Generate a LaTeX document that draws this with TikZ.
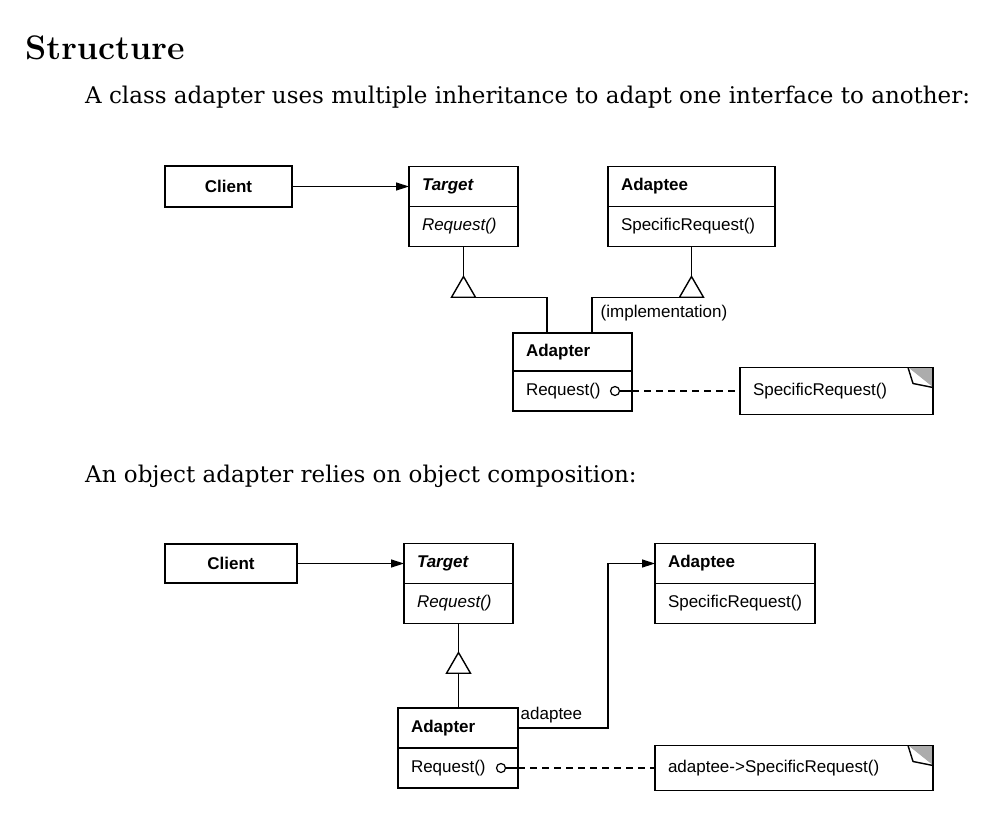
\documentclass[tikz,border=0pt]{standalone}
\usepackage{fontspec}
\setsansfont{Liberation Sans}
\newfontfamily\bodyfont{DejaVu Serif}
\usetikzlibrary{shapes.geometric, arrows.meta, positioning, calc}
\newcommand{\umlfont}{\fontsize{17}{20}\selectfont\sffamily}
\tikzstyle{heading} = [anchor=base west, inner sep=0pt, font=\fontsize{34}{40}\selectfont\bfseries]
\tikzstyle{bodytext} = [anchor=base west, inner sep=0pt, font=\bodyfont\fontsize{23}{28}\selectfont]
\tikzstyle{classname} = [rectangle, draw=black, line width=1.4pt, outer sep=0pt, minimum height=40pt, inner xsep=13pt, inner ysep=0pt, align=left, font=\umlfont\bfseries]
\tikzstyle{classops} = [rectangle, draw=black, line width=1.4pt, outer sep=0pt, minimum height=40pt, inner xsep=13pt, inner ysep=0pt, align=left, font=\umlfont]
\tikzstyle{notebox} = [rectangle, draw=black, line width=1.4pt, outer sep=0pt, fill=white, inner xsep=13pt, inner ysep=0pt, align=left, font=\umlfont]
\tikzstyle{gentri} = [regular polygon, regular polygon sides=3, draw=black, line width=1.4pt, outer sep=0pt, fill=white, minimum size=27.7pt, inner sep=0pt]
\tikzstyle{implpoint} = [circle, draw=black, line width=1.2pt, minimum size=9pt, inner sep=0pt]
\tikzstyle{label} = [inner sep=2pt, font=\umlfont]
\tikzstyle{link} = [line width=1.4pt]
\tikzstyle{dashlink} = [line width=1.4pt, dash pattern=on 7pt off 5pt]
\tikzstyle{arrow} = [line width=1.4pt, -{Triangle[length=13pt, width=8pt]}]

\begin{document}
\begin{tikzpicture}[x=1pt, y=-1pt]
\useasboundingbox (0,0) rectangle (994,816);

\node (title) [heading] at (25,60) {Structure};
\node (classintro) [bodytext] at (85,103) {A class adapter uses multiple inheritance to adapt one interface to another:};
\node (objintro) [bodytext] at (85,482) {An object adapter relies on object composition:};

% class adapter
\node (client) [classname, anchor=north west, minimum width=127pt, minimum height=41pt] at (165,166) {Client};
\node (target) [classname, text width=83pt, right=117pt of client] {\itshape Target};
\node (targetops) [classops, text width=83pt, below=0pt of target] {\itshape Request()};
\node (adaptee) [classname, text width=141pt, right=90pt of target] {Adaptee};
\node (adapteeops) [classops, text width=141pt, below=0pt of adaptee] {SpecificRequest()};
\node (adapter) [classname, text width=93pt, anchor=north west, minimum height=38pt] at (513,333) {Adapter};
\node (adapterops) [classops, text width=93pt, below=0pt of adapter] {Request()};
\node (note) [notebox, text width=167pt, minimum height=47pt, right=108pt of adapterops] {SpecificRequest()};
\node (tgttri) [gentri, below=30pt of targetops] {};
\node (adpttri) [gentri, below=30pt of adapteeops] {};
\node (reqdot) [implpoint] at ($(adapterops.east)+(-17pt,0pt)$) {};

\fill[gray!65] ($(note.north east)+(-25pt,0pt)$) -- (note.north east) -- ($(note.north east)+(0pt,-20pt)$) -- cycle;
\draw[link, fill=white, line join=round] ($(note.north east)+(-25pt,0pt)$) -- ($(note.north east)+(-20pt,-16pt)$) -- ($(note.north east)+(0pt,-20pt)$);
\draw[link] (note.north west) rectangle (note.south east);

% Arrows
\draw [arrow] (client) -- (target);
\draw [link] (targetops.south) -- (tgttri.corner 1);
\draw [link] (tgttri.corner 3) -| ($(adapter.north west)+(34pt,0pt)$);
\draw [link] (adapteeops.south) -- (adpttri.corner 1);
\draw [link] (adpttri.corner 2) -| node[label, anchor=north west, xshift=6pt, yshift=-5pt] {(implementation)} ($(adapter.north west)+(79pt,0pt)$);
\draw [link] (reqdot) -- (adapterops.east);
\draw [dashlink] (adapterops.east) -- (adapterops.east -| note.west);

% object adapter
\node (objclient) [classname, anchor=north west, minimum width=132pt, minimum height=39pt] at (165,544) {Client};
\node (objtarget) [classname, text width=83pt, right=107pt of objclient] {\itshape Target};
\node (objtargetops) [classops, text width=83pt, below=0pt of objtarget] {\itshape Request()};
\node (objadaptee) [classname, text width=134pt, right=142pt of objtarget] {Adaptee};
\node (objadapteeops) [classops, text width=134pt, below=0pt of objadaptee] {SpecificRequest()};
\node (objadapter) [classname, text width=94pt, anchor=north west] at (398,708) {Adapter};
\node (objadapterops) [classops, text width=94pt, below=0pt of objadapter] {Request()};
\node (objnote) [notebox, text width=252pt, minimum height=45pt, right=137pt of objadapterops] {adaptee->SpecificRequest()};
\node (objtri) [gentri, below=29pt of objtargetops] {};
\node (objreqdot) [implpoint] at ($(objadapterops.east)+(-17pt,0pt)$) {};

\fill[gray!65] ($(objnote.north east)+(-25pt,0pt)$) -- (objnote.north east) -- ($(objnote.north east)+(0pt,-20pt)$) -- cycle;
\draw[link, fill=white, line join=round] ($(objnote.north east)+(-25pt,0pt)$) -- ($(objnote.north east)+(-20pt,-16pt)$) -- ($(objnote.north east)+(0pt,-20pt)$);
\draw[link] (objnote.north west) rectangle (objnote.south east);

% Arrows
\draw [arrow] (objclient) -- (objtarget);
\draw [link] (objtargetops.south) -- (objtri.corner 1);
\draw [link] (objtri.side 2) -- (objtri.side 2 |- objadapter.north);
\draw [arrow] (objadapter.east) -- node[label, pos=0, anchor=south west, yshift=2pt] {adaptee} ++(0pt,0pt) -| ($(objadaptee.west)+(-47pt,0pt)$) -- (objadaptee.west);
\draw [link] (objreqdot) -- (objadapterops.east);
\draw [dashlink] (objadapterops.east) -- (objadapterops.east -| objnote.west);

\end{tikzpicture}
\end{document}
